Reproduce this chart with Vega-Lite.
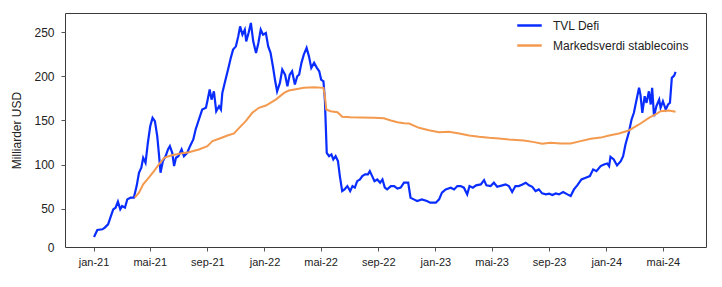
{
  "$schema": "https://vega.github.io/schema/vega-lite/v6.json",
  "width": 641,
  "height": 234,
  "autosize": {"type": "none"},
  "padding": {"left": 65, "top": 13, "right": 16, "bottom": 40},
  "background": "white",
  "config": {
    "view": {"stroke": "#3a3a3a", "strokeWidth": 1},
    "font": "Liberation Sans"
  },
  "datasets": {
    "tvl": [
      {"date": "2021-01-02", "value": 17.9},
      {"date": "2021-01-09", "value": 25.8},
      {"date": "2021-01-20", "value": 26.6},
      {"date": "2021-01-25", "value": 28.5},
      {"date": "2021-02-01", "value": 32.2},
      {"date": "2021-02-07", "value": 41.6},
      {"date": "2021-02-12", "value": 49.2},
      {"date": "2021-02-17", "value": 51.1},
      {"date": "2021-02-22", "value": 57.9},
      {"date": "2021-02-27", "value": 49.2},
      {"date": "2021-03-03", "value": 52.9},
      {"date": "2021-03-09", "value": 51.1},
      {"date": "2021-03-14", "value": 60.5},
      {"date": "2021-03-21", "value": 62.4},
      {"date": "2021-03-28", "value": 62.4},
      {"date": "2021-04-03", "value": 75.6},
      {"date": "2021-04-08", "value": 90.7},
      {"date": "2021-04-13", "value": 96.4},
      {"date": "2021-04-17", "value": 107.7},
      {"date": "2021-04-22", "value": 102},
      {"date": "2021-04-27", "value": 124.7},
      {"date": "2021-05-02", "value": 143.4},
      {"date": "2021-05-07", "value": 152.9},
      {"date": "2021-05-12", "value": 149.1},
      {"date": "2021-05-17", "value": 132.1},
      {"date": "2021-05-21", "value": 109.5},
      {"date": "2021-05-24", "value": 90.7},
      {"date": "2021-05-29", "value": 103.8},
      {"date": "2021-06-04", "value": 109.5},
      {"date": "2021-06-09", "value": 117.1},
      {"date": "2021-06-13", "value": 120.8},
      {"date": "2021-06-18", "value": 113.3},
      {"date": "2021-06-22", "value": 98.2},
      {"date": "2021-06-26", "value": 107.7},
      {"date": "2021-07-01", "value": 109.5},
      {"date": "2021-07-08", "value": 117.1},
      {"date": "2021-07-13", "value": 109.5},
      {"date": "2021-07-20", "value": 113.3},
      {"date": "2021-07-26", "value": 120.8},
      {"date": "2021-08-02", "value": 128.4},
      {"date": "2021-08-07", "value": 139.7},
      {"date": "2021-08-14", "value": 151},
      {"date": "2021-08-21", "value": 162.3},
      {"date": "2021-08-29", "value": 164.3},
      {"date": "2021-09-01", "value": 171.7},
      {"date": "2021-09-06", "value": 185},
      {"date": "2021-09-10", "value": 173.6},
      {"date": "2021-09-15", "value": 183},
      {"date": "2021-09-20", "value": 160.4},
      {"date": "2021-09-26", "value": 166.1},
      {"date": "2021-09-30", "value": 162.3},
      {"date": "2021-10-03", "value": 181.2},
      {"date": "2021-10-09", "value": 194.3},
      {"date": "2021-10-16", "value": 209.5},
      {"date": "2021-10-21", "value": 220.8},
      {"date": "2021-10-26", "value": 230.2},
      {"date": "2021-11-01", "value": 233.9},
      {"date": "2021-11-06", "value": 245.2},
      {"date": "2021-11-10", "value": 256.6},
      {"date": "2021-11-15", "value": 247.2},
      {"date": "2021-11-20", "value": 252.8},
      {"date": "2021-11-23", "value": 239.6},
      {"date": "2021-11-28", "value": 249.1},
      {"date": "2021-12-03", "value": 260.4},
      {"date": "2021-12-08", "value": 239.6},
      {"date": "2021-12-14", "value": 226.5},
      {"date": "2021-12-19", "value": 237.8},
      {"date": "2021-12-24", "value": 252.8},
      {"date": "2021-12-29", "value": 247.2},
      {"date": "2022-01-04", "value": 249.1},
      {"date": "2022-01-09", "value": 233.9},
      {"date": "2022-01-14", "value": 226.5},
      {"date": "2022-01-19", "value": 211.3},
      {"date": "2022-01-24", "value": 194.3},
      {"date": "2022-01-28", "value": 183},
      {"date": "2022-02-03", "value": 192.5},
      {"date": "2022-02-08", "value": 207.6},
      {"date": "2022-02-14", "value": 201.9},
      {"date": "2022-02-19", "value": 188.7},
      {"date": "2022-02-24", "value": 201.9},
      {"date": "2022-03-01", "value": 205.7},
      {"date": "2022-03-07", "value": 190.6},
      {"date": "2022-03-12", "value": 200},
      {"date": "2022-03-16", "value": 201.9},
      {"date": "2022-03-21", "value": 215.2},
      {"date": "2022-03-26", "value": 224.5},
      {"date": "2022-04-01", "value": 232.1},
      {"date": "2022-04-06", "value": 222.6},
      {"date": "2022-04-11", "value": 209.5},
      {"date": "2022-04-17", "value": 215.2},
      {"date": "2022-04-23", "value": 209.5},
      {"date": "2022-04-28", "value": 205.7},
      {"date": "2022-05-02", "value": 196.3},
      {"date": "2022-05-07", "value": 194.3},
      {"date": "2022-05-10", "value": 173.6},
      {"date": "2022-05-12", "value": 143.4},
      {"date": "2022-05-14", "value": 113.3},
      {"date": "2022-05-19", "value": 109.5},
      {"date": "2022-05-24", "value": 111.4},
      {"date": "2022-05-28", "value": 105.8},
      {"date": "2022-06-02", "value": 109.5},
      {"date": "2022-06-07", "value": 103.8},
      {"date": "2022-06-11", "value": 86.9},
      {"date": "2022-06-16", "value": 69.9},
      {"date": "2022-06-21", "value": 71.8},
      {"date": "2022-06-27", "value": 75.6},
      {"date": "2022-07-03", "value": 69.9},
      {"date": "2022-07-08", "value": 75.6},
      {"date": "2022-07-13", "value": 73.8},
      {"date": "2022-07-18", "value": 81.2},
      {"date": "2022-07-24", "value": 83.1},
      {"date": "2022-07-29", "value": 86.9},
      {"date": "2022-08-04", "value": 88.8},
      {"date": "2022-08-10", "value": 88.8},
      {"date": "2022-08-14", "value": 92.5},
      {"date": "2022-08-19", "value": 86.9},
      {"date": "2022-08-24", "value": 81.2},
      {"date": "2022-08-30", "value": 83.1},
      {"date": "2022-09-05", "value": 79.4},
      {"date": "2022-09-10", "value": 83.1},
      {"date": "2022-09-15", "value": 73.8},
      {"date": "2022-09-20", "value": 71.8},
      {"date": "2022-09-28", "value": 75.6},
      {"date": "2022-10-05", "value": 75.6},
      {"date": "2022-10-12", "value": 72.7},
      {"date": "2022-10-19", "value": 73.8},
      {"date": "2022-10-26", "value": 79.4},
      {"date": "2022-10-30", "value": 79.4},
      {"date": "2022-11-04", "value": 79.4},
      {"date": "2022-11-09", "value": 62.4},
      {"date": "2022-11-16", "value": 60.5},
      {"date": "2022-11-23", "value": 58.6},
      {"date": "2022-12-03", "value": 60.5},
      {"date": "2022-12-14", "value": 58.6},
      {"date": "2022-12-21", "value": 56.8},
      {"date": "2023-01-02", "value": 56.8},
      {"date": "2023-01-09", "value": 60.5},
      {"date": "2023-01-15", "value": 68.1},
      {"date": "2023-01-23", "value": 71.8},
      {"date": "2023-02-03", "value": 73.8},
      {"date": "2023-02-10", "value": 71.8},
      {"date": "2023-02-17", "value": 75.6},
      {"date": "2023-02-24", "value": 75.6},
      {"date": "2023-03-03", "value": 73.8},
      {"date": "2023-03-10", "value": 66.2},
      {"date": "2023-03-15", "value": 75.6},
      {"date": "2023-03-22", "value": 73.8},
      {"date": "2023-03-29", "value": 76.4},
      {"date": "2023-04-08", "value": 77.5},
      {"date": "2023-04-15", "value": 82.4},
      {"date": "2023-04-20", "value": 76.4},
      {"date": "2023-04-29", "value": 75.6},
      {"date": "2023-05-06", "value": 79.4},
      {"date": "2023-05-13", "value": 74.8},
      {"date": "2023-05-24", "value": 76.4},
      {"date": "2023-05-31", "value": 77.5},
      {"date": "2023-06-07", "value": 75.6},
      {"date": "2023-06-14", "value": 68.8},
      {"date": "2023-06-21", "value": 75.6},
      {"date": "2023-06-28", "value": 75.6},
      {"date": "2023-07-06", "value": 77.5},
      {"date": "2023-07-13", "value": 79.4},
      {"date": "2023-07-20", "value": 76.4},
      {"date": "2023-07-27", "value": 74.8},
      {"date": "2023-08-03", "value": 69.9},
      {"date": "2023-08-10", "value": 71.8},
      {"date": "2023-08-17", "value": 67.3},
      {"date": "2023-08-25", "value": 66.2},
      {"date": "2023-09-01", "value": 67},
      {"date": "2023-09-08", "value": 65.5},
      {"date": "2023-09-15", "value": 67.3},
      {"date": "2023-09-22", "value": 66.2},
      {"date": "2023-10-01", "value": 68.8},
      {"date": "2023-10-10", "value": 66.2},
      {"date": "2023-10-17", "value": 64.3},
      {"date": "2023-10-24", "value": 71.8},
      {"date": "2023-10-31", "value": 76.4},
      {"date": "2023-11-09", "value": 83.1},
      {"date": "2023-11-18", "value": 85.1},
      {"date": "2023-11-27", "value": 86.9},
      {"date": "2023-12-04", "value": 94.5},
      {"date": "2023-12-11", "value": 92.5},
      {"date": "2023-12-20", "value": 98.2},
      {"date": "2023-12-27", "value": 100.1},
      {"date": "2024-01-03", "value": 101.2},
      {"date": "2024-01-07", "value": 98.2},
      {"date": "2024-01-10", "value": 108.8},
      {"date": "2024-01-17", "value": 105.8},
      {"date": "2024-01-24", "value": 99},
      {"date": "2024-02-01", "value": 103.8},
      {"date": "2024-02-06", "value": 109.5},
      {"date": "2024-02-11", "value": 122.7},
      {"date": "2024-02-18", "value": 136},
      {"date": "2024-02-24", "value": 151},
      {"date": "2024-02-29", "value": 158.6},
      {"date": "2024-03-05", "value": 171.7},
      {"date": "2024-03-11", "value": 186.9},
      {"date": "2024-03-14", "value": 179.3},
      {"date": "2024-03-18", "value": 158.6},
      {"date": "2024-03-23", "value": 177.4},
      {"date": "2024-03-27", "value": 169.9},
      {"date": "2024-04-01", "value": 183},
      {"date": "2024-04-05", "value": 168},
      {"date": "2024-04-08", "value": 186.9},
      {"date": "2024-04-12", "value": 154.8},
      {"date": "2024-04-17", "value": 166.1},
      {"date": "2024-04-23", "value": 173.6},
      {"date": "2024-04-26", "value": 164.3},
      {"date": "2024-05-01", "value": 171.7},
      {"date": "2024-05-07", "value": 162.3},
      {"date": "2024-05-12", "value": 168},
      {"date": "2024-05-16", "value": 169.9},
      {"date": "2024-05-20", "value": 198.2},
      {"date": "2024-05-25", "value": 200.8},
      {"date": "2024-05-28", "value": 205}
    ],
    "stable": [
      {"date": "2021-03-30", "value": 62.4},
      {"date": "2021-04-08", "value": 68.1},
      {"date": "2021-04-17", "value": 77.5},
      {"date": "2021-04-29", "value": 85.1},
      {"date": "2021-05-10", "value": 92.5},
      {"date": "2021-05-23", "value": 102},
      {"date": "2021-06-01", "value": 107.7},
      {"date": "2021-06-15", "value": 110.3},
      {"date": "2021-07-06", "value": 112.6},
      {"date": "2021-07-24", "value": 114},
      {"date": "2021-08-04", "value": 115.6},
      {"date": "2021-08-14", "value": 117.1},
      {"date": "2021-09-01", "value": 120.8},
      {"date": "2021-09-12", "value": 126.5},
      {"date": "2021-09-26", "value": 129.2},
      {"date": "2021-10-14", "value": 132.9},
      {"date": "2021-10-28", "value": 135.2},
      {"date": "2021-11-08", "value": 141.6},
      {"date": "2021-11-22", "value": 149.1},
      {"date": "2021-12-06", "value": 158.6},
      {"date": "2021-12-20", "value": 164.3},
      {"date": "2022-01-04", "value": 166.9},
      {"date": "2022-01-25", "value": 173.6},
      {"date": "2022-02-12", "value": 181.2},
      {"date": "2022-02-22", "value": 183.8},
      {"date": "2022-03-12", "value": 185.7},
      {"date": "2022-03-26", "value": 186.9},
      {"date": "2022-04-17", "value": 187.6},
      {"date": "2022-05-07", "value": 186.9},
      {"date": "2022-05-10", "value": 177.4},
      {"date": "2022-05-13", "value": 162.3},
      {"date": "2022-05-22", "value": 160.4},
      {"date": "2022-06-06", "value": 159.3},
      {"date": "2022-06-16", "value": 154.1},
      {"date": "2022-07-04", "value": 153.6},
      {"date": "2022-07-26", "value": 153.3},
      {"date": "2022-08-23", "value": 152.9},
      {"date": "2022-09-13", "value": 152.5},
      {"date": "2022-09-28", "value": 149.9},
      {"date": "2022-10-12", "value": 148},
      {"date": "2022-10-26", "value": 146.8},
      {"date": "2022-11-06", "value": 146.5},
      {"date": "2022-11-27", "value": 141.6},
      {"date": "2022-12-18", "value": 138.9},
      {"date": "2023-01-09", "value": 136.7},
      {"date": "2023-01-30", "value": 137.1},
      {"date": "2023-02-21", "value": 135.2},
      {"date": "2023-03-14", "value": 132.9},
      {"date": "2023-04-04", "value": 131.4},
      {"date": "2023-04-26", "value": 130.3},
      {"date": "2023-05-17", "value": 129.5},
      {"date": "2023-06-07", "value": 128.4},
      {"date": "2023-07-09", "value": 127.3},
      {"date": "2023-07-31", "value": 125.4},
      {"date": "2023-08-17", "value": 123.5},
      {"date": "2023-09-04", "value": 124.7},
      {"date": "2023-09-26", "value": 123.9},
      {"date": "2023-10-17", "value": 123.9},
      {"date": "2023-11-07", "value": 126.5},
      {"date": "2023-11-29", "value": 129.2},
      {"date": "2023-12-20", "value": 130.5},
      {"date": "2024-01-07", "value": 132.9},
      {"date": "2024-01-28", "value": 135.2},
      {"date": "2024-02-18", "value": 138.6},
      {"date": "2024-03-11", "value": 145.4},
      {"date": "2024-04-01", "value": 152.9},
      {"date": "2024-04-15", "value": 156.7},
      {"date": "2024-04-26", "value": 160.4},
      {"date": "2024-05-14", "value": 161.2},
      {"date": "2024-05-28", "value": 159.7}
    ]
  },
  "layer": [
    {
      "data": {"name": "tvl"},
      "transform": [{"calculate": "'TVL Defi'", "as": "series"}],
      "mark": {"type": "line", "strokeWidth": 2.2, "clip": true},
      "encoding": {
        "x": {"field": "date", "type": "temporal"},
        "y": {"field": "value", "type": "quantitative"},
        "color": {"field": "series", "type": "nominal"}
      }
    },
    {
      "data": {"name": "stable"},
      "transform": [{"calculate": "'Markedsverdi stablecoins'", "as": "series"}],
      "mark": {"type": "line", "strokeWidth": 2, "clip": true},
      "encoding": {
        "x": {"field": "date", "type": "temporal"},
        "y": {"field": "value", "type": "quantitative"},
        "color": {"field": "series", "type": "nominal"}
      }
    }
  ],
  "resolve": {"scale": {"color": "shared"}},
  "encoding": {
    "x": {
      "field": "date",
      "type": "temporal",
      "scale": {"domain": [{"year": 2020, "month": 11, "date": 1}, {"year": 2024, "month": 8, "date": 1}], "nice": false},
      "axis": {
        "title": null,
        "grid": false,
        "domain": false,
        "tickCount": {"interval": "month", "step": 4},
        "tickSize": 4,
        "tickColor": "#555555",
        "labelExpr": "['jan','feb','mar','apr','mai','jun','jul','aug','sep','okt','nov','des'][month(datum.value)] + '-' + timeFormat(datum.value, '%y')",
        "labelFont": "Liberation Sans",
        "labelFontSize": 11,
        "labelColor": "#222222",
        "labelPadding": 5,
        "labelFlush": false,
        "labelOverlap": false
      }
    },
    "y": {
      "field": "value",
      "type": "quantitative",
      "scale": {"domain": [6.56, 271.7], "nice": false, "zero": false},
      "axis": {
        "title": "Milliarder USD",
        "titleFont": "Liberation Sans",
        "titleFontSize": 12,
        "titleFontWeight": "normal",
        "titleColor": "#222222",
        "titlePadding": 10,
        "grid": false,
        "domain": false,
        "values": [6.56, 50, 100, 150, 200, 250],
        "labelExpr": "datum.value < 10 ? '0' : datum.label",
        "tickSize": 4,
        "tickColor": "#555555",
        "tickOpacity": {"condition": {"test": "datum.value < 10", "value": 0}, "value": 1},
        "labelFont": "Liberation Sans",
        "labelFontSize": 12,
        "labelColor": "#222222",
        "labelPadding": 7,
        "labelFlush": false,
        "labelOverlap": false
      }
    },
    "color": {
      "field": "series",
      "type": "nominal",
      "scale": {"domain": ["TVL Defi", "Markedsverdi stablecoins"], "range": ["#0a2dff", "#f39a4f"]},
      "legend": {
        "title": null,
        "orient": "none",
        "legendX": 451,
        "legendY": -1,
        "padding": 0,
        "symbolType": "stroke",
        "symbolSize": 600,
        "symbolStrokeWidth": 2.5,
        "labelFont": "Liberation Sans",
        "labelFontSize": 12,
        "labelColor": "#222222",
        "labelOffset": 10,
        "rowPadding": -6
      }
    }
  }
}
